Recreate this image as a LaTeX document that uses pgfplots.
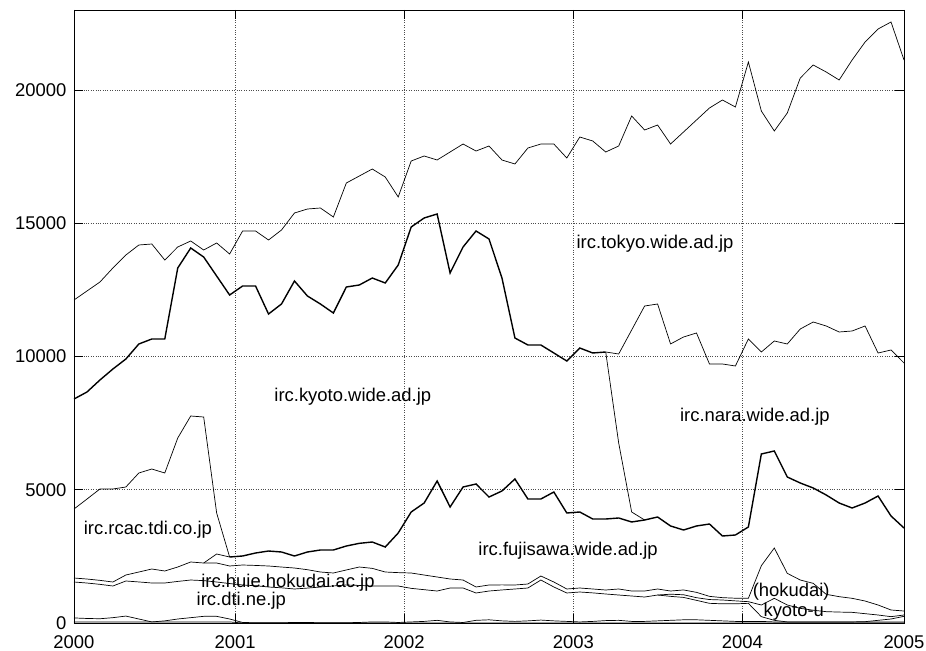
\documentclass[border=0pt]{standalone}
\usepackage{fontspec}
\setmainfont{Liberation Sans}
\usepackage{pgfplots}
\pgfplotsset{compat=1.18}
\tikzset{lbl/.style={font=\fontsize{18.5}{21}\selectfont, inner sep=0pt}}
\begin{document}
\begin{tikzpicture}
\begin{axis}[
 scale only axis, width=830bp, height=613bp,
 xmin=0, xmax=64, ymin=0, ymax=23000,
 xtick={0,12.42,25.46,38.50,51.54,64},
 xticklabels={2000,2001,2002,2003,2004,2005},
 ytick={0,5000,10000,15000,20000},
 scaled y ticks=false,
 yticklabel style={/pgf/number format/fixed, /pgf/number format/1000 sep={}, xshift=-4bp},
 xticklabel style={yshift=-9bp},
 /pgf/number format/assume math mode=true,
 tick label style={font=\fontsize{18.5}{21}\selectfont},
 tick align=inside, major tick length=9bp,
 grid=major, major grid style={dotted, black!70, line width=0.7pt},
 axis line style={line width=0.8pt},
 every tick/.style={black, line width=0.8pt},
 thin line/.style={black, line width=0.7pt, mark=none},
 thick line/.style={black, line width=1.4pt, mark=none},
]
\coordinate (O) at (rel axis cs:0,0);
% irc.tokyo.wide.ad.jp (top line)
\addplot[thin line] coordinates {(0,12119)(1,12457)(2,12794)(3,13320)(4,13807)(5,14183)(6,14220)(7,13620)(8,14108)(9,14333)(10,13995)(11,14258)(12,13845)(13,14708)(14,14708)(15,14370)(16,14745)(17,15383)(18,15533)(19,15571)(20,15233)(21,16509)(22,16771)(23,17034)(24,16734)(25,15984)(26,17334)(27,17522)(28,17372)(29,17672)(30,17972)(31,17709)(32,17897)(33,17372)(34,17222)(35,17822)(36,17972)(37,17972)(38,17447)(39,18235)(40,18085)(41,17672)(42,17897)(43,19023)(44,18497)(45,18685)(46,17972)(47,18422)(48,18873)(49,19323)(50,19623)(51,19360)(52,21049)(53,19210)(54,18460)(55,19135)(56,20448)(57,20936)(58,20674)(59,20373)(60,21124)(61,21799)(62,22287)(63,22550)(64,21124)};
% irc.nara.wide.ad.jp
\addplot[thin line] coordinates {(41,10168)(42,10093)(43,10993)(44,11894)(45,11969)(46,10470)(47,10731)(48,10881)(49,9718)(50,9718)(51,9643)(52,10656)(53,10168)(54,10581)(55,10468)(56,11031)(57,11294)(58,11144)(59,10919)(60,10956)(61,11144)(62,10130)(63,10243)(64,9755)};
% irc.kyoto.wide.ad.jp
\addplot[thick line] coordinates {(0,8404)(1,8667)(2,9117)(3,9530)(4,9905)(5,10468)(6,10656)(7,10656)(8,13320)(9,14070)(10,13732)(11,13019)(12,12306)(13,12644)(14,12644)(15,11594)(16,11969)(17,12832)(18,12269)(19,11969)(20,11631)(21,12607)(22,12682)(23,12944)(24,12757)(25,13432)(26,14858)(27,15196)(28,15346)(29,13132)(30,14108)(31,14708)(32,14408)(33,12944)(34,10693)(35,10431)(36,10431)(37,10131)(38,9830)(39,10318)(40,10131)(41,10168)};
\addplot[thin line] coordinates {(41,10168)(42,6754)(43,4165)(44,3865)};
% irc.rcac.tdi.co.jp
\addplot[thin line] coordinates {(0,4277)(1,4650)(2,5028)(3,5028)(4,5103)(5,5628)(6,5778)(7,5628)(8,6941)(9,7767)(10,7729)(11,4127)(12,2476)};
% irc.fujisawa.wide.ad.jp
\addplot[thin line] coordinates {(10,2251)(11,2589)(12,2476)};
\addplot[thick line] coordinates {(12,2476)(13,2514)(14,2626)(15,2701)(16,2664)(17,2514)(18,2664)(19,2739)(20,2739)(21,2889)(22,2989)(23,3039)(24,2851)(25,3377)(26,4165)(27,4502)(28,5328)(29,4352)(30,5103)(31,5215)(32,4727)(33,4953)(34,5403)(35,4652)(36,4652)(37,4915)(38,4127)(39,4165)(40,3902)(41,3902)(42,3940)(43,3790)(44,3865)(45,3977)(46,3640)(47,3489)(48,3640)(49,3714)(50,3264)(51,3302)(52,3602)(53,6341)(54,6454)(55,5478)(56,5253)(57,5065)(58,4803)(59,4502)(60,4315)(61,4502)(62,4765)(63,4015)(64,3564)};
% (hokudai) upper line
\addplot[thin line] coordinates {(0,1688)(1,1650)(2,1600)(3,1538)(4,1801)(5,1913)(6,2026)(7,1951)(8,2101)(9,2289)(10,2251)(11,2251)(12,2139)(13,2176)(14,2160)(15,2139)(16,2100)(17,2063)(18,2000)(19,1913)(20,1876)(21,1990)(22,2101)(23,2050)(24,1913)(25,1890)(26,1876)(27,1800)(28,1726)(29,1651)(30,1613)(31,1351)(32,1426)(33,1430)(34,1426)(35,1463)(36,1763)(37,1538)(38,1276)(39,1313)(40,1276)(41,1238)(42,1276)(43,1200)(44,1200)(45,1276)(46,1200)(47,1240)(48,1150)(49,1000)(50,951)(51,930)(52,926)(53,2150)(54,2814)(55,1863)(56,1613)(57,1488)(58,1076)(59,988)(60,926)(61,825)(62,675)(63,488)(64,450)};
% irc.huie.hokudai.ac.jp lower line
\addplot[thin line] coordinates {(0,1538)(1,1500)(2,1450)(3,1388)(4,1576)(5,1540)(6,1501)(7,1501)(8,1560)(9,1613)(10,1590)(11,1538)(12,1480)(13,1426)(14,1400)(15,1351)(16,1320)(17,1276)(18,1310)(19,1351)(20,1390)(21,1426)(22,1410)(23,1388)(24,1388)(25,1388)(26,1300)(27,1250)(28,1200)(29,1313)(30,1313)(31,1126)(32,1200)(33,1240)(34,1276)(35,1313)(36,1613)(37,1351)(38,1126)(39,1163)(40,1130)(41,1088)(42,1050)(43,1013)(44,975)(45,1050)(46,1000)(47,960)(48,850)(49,738)(50,720)(51,720)(52,738)(53,238)(54,100)(55,40)(56,40)(57,40)(58,40)(59,40)(60,40)(61,40)(62,40)(63,40)(64,40)};
% kyoto-u
\addplot[thin line] coordinates {(45,1050)(46,1080)(47,1060)(48,950)(49,880)(50,863)(51,830)(52,800)(53,675)(54,926)(55,675)(56,550)(57,480)(58,425)(59,410)(60,400)(61,350)(62,300)(63,238)(64,300)};
% irc.dti.ne.jp
\addplot[thin line] coordinates {(0,190)(1,170)(2,160)(3,200)(4,260)(5,150)(6,40)(7,80)(8,150)(9,200)(10,250)(11,250)(12,150)(13,20)(14,10)(15,10)(16,10)(17,20)(18,20)(19,10)(20,10)(21,10)(22,20)(23,40)(24,40)(25,20)(26,40)(27,60)(28,100)(29,40)(30,20)(31,100)(32,120)(33,80)(34,60)(35,80)(36,110)(37,80)(38,60)(39,40)(40,60)(41,90)(42,100)(43,60)(44,60)(45,80)(46,100)(47,120)(48,120)(49,100)(50,80)(51,60)(52,60)(53,60)(54,40)(55,40)(56,40)(57,40)(58,40)(59,40)(60,40)(61,50)(62,100)(63,150)(64,250)};
\addplot[thin line] coordinates {(0,40)(12,40)(13,0)(64,0)};
\node[lbl] at (axis cs:44.8,14220) {irc.tokyo.wide.ad.jp};
\node[lbl] at (axis cs:21.5,8480) {irc.kyoto.wide.ad.jp};
\node[lbl] at (axis cs:52.5,7729) {irc.nara.wide.ad.jp};
\node[lbl] at (axis cs:5.7,3489) {irc.rcac.tdi.co.jp};
\node[lbl] at (axis cs:38.1,2701) {irc.fujisawa.wide.ad.jp};
\node[lbl] at (axis cs:16.5,1500) {irc.huie.hokudai.ac.jp};
\node[lbl] at (axis cs:12.9,825) {irc.dti.ne.jp};
\node[lbl] at (axis cs:55.3,1163) {(hokudai)};
\node[lbl] at (axis cs:55.5,413) {kyoto-u};
\end{axis}
\pgfresetboundingbox
\path (O) ++(-74bp,-28bp) rectangle ++(926bp,651bp);
\end{tikzpicture}
\end{document}
